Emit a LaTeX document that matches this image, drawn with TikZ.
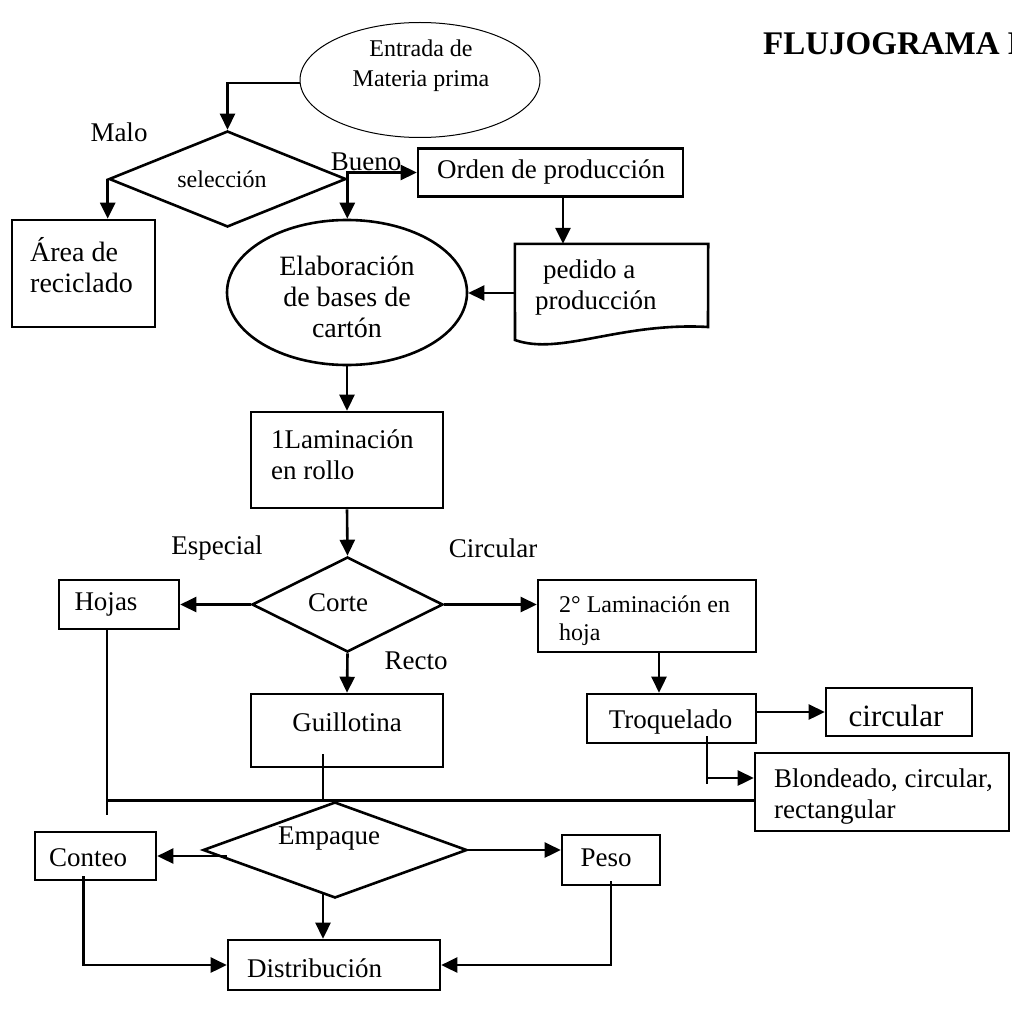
\documentclass[tikz,border=0pt]{standalone}
\usepackage{fontspec}
\setmainfont{Liberation Serif}
\usetikzlibrary{shapes.geometric,arrows.meta,calc}
\begin{document}
\begin{tikzpicture}[x=1pt,y=-1pt,
  box/.style={draw,rectangle,inner sep=0pt,line width=2.6pt},
  dia/.style={draw,diamond,inner sep=0pt,line width=2.6pt},
  txt/.style={inner sep=0pt,font=\fontsize{27}{31}\selectfont,align=center},
  arr/.style={-{Triangle[length=16pt,width=15pt]},line width=2.6pt},
  ln/.style={line width=2.6pt}
]
\useasboundingbox (0,0) rectangle (1011,1019);
% title
\node[anchor=base west,inner sep=0pt,font=\fontsize{33}{38}\selectfont\bfseries] (title) at (763,55) {FLUJOGRAMA P};
% top
\node[draw,ellipse,line width=1pt,minimum width=240pt,minimum height=115pt,inner sep=0pt] (ent) at (420,80) {};
\node[txt,font=\fontsize{24}{30}\selectfont] (entT) at (421,66) {Entrada de\\Materia prima};
\node[dia,minimum width=237pt,minimum height=96pt] (sel) at (227.5,179) {};
\node[txt,font=\fontsize{24}{30}\selectfont] (selT) at (222,179) {selección};
\node[txt] (malo) at (119,132) {Malo};
\node[txt] (bueno) at (366,162) {Bueno};
\node[box,minimum width=143pt,minimum height=107pt] (rec) at (83.5,273.5) {};
\node[txt,anchor=west,align=left,font=\fontsize{28}{31}\selectfont] (recT) at (30,265) {Área de\\reciclado};
\node[box,minimum width=265pt,minimum height=48pt] (ord) at (550.5,172.5) {};
\node[txt,anchor=west] (ordT) at (437,172) {Orden de producción};
% document shape
\node[rectangle,inner sep=0pt,minimum width=193pt,minimum height=103pt] (ped) at (611.5,295.5) {};
\draw[ln] (ped.north west) -- (ped.north east) -- (708,327) .. controls (620,322) and (560,356) .. (515,340) -- cycle;
\node[txt,anchor=west,align=left] (pedT) at (535,288) {\hspace*{8pt}pedido a\\producción};
\node[draw,ellipse,line width=2.6pt,minimum width=240pt,minimum height=145pt,inner sep=0pt] (elab) at (347,292.5) {};
\node[txt,font=\fontsize{28}{31}\selectfont] (elabT) at (347,297) {Elaboración\\de bases de\\cartón};
% middle
\node[box,minimum width=192pt,minimum height=96pt] (lam1) at (347,460) {};
\node[txt,anchor=west,align=left] (lam1T) at (271,455) {1Laminación\\en rollo};
\node[dia,minimum width=191pt,minimum height=95pt] (cor) at (347.5,604.5) {};
\node[txt] (corT) at (338,603) {Corte};
\node[txt] (esp) at (217,548) {Especial};
\node[txt] (circl) at (493,548) {Circular};
\node[txt] (rect) at (416,661) {Recto};
\node[box,minimum width=120pt,minimum height=49pt] (hoj) at (119,604.5) {};
\node[txt] (hojT) at (106,604) {Hojas};
\node[box,minimum width=218pt,minimum height=72pt] (lam2) at (647,616) {};
\node[txt,anchor=west,align=left,font=\fontsize{24}{28}\selectfont] (lam2T) at (559,621) {2° Laminación en\\hoja};
\node[box,minimum width=192pt,minimum height=73pt] (gui) at (347,730.5) {};
\node[txt] (guiT) at (347,722) {Guillotina};
\node[box,minimum width=169pt,minimum height=49pt] (troq) at (671.5,718.5) {};
\node[txt] (troqT) at (670.5,722) {Troquelado};
\node[box,minimum width=146pt,minimum height=48pt] (circ) at (899,712) {};
\node[txt,font=\fontsize{31}{34}\selectfont] (circT) at (896,716) {circular};
\node[box,minimum width=254pt,minimum height=78pt] (blond) at (882,792) {};
\node[txt,anchor=west,align=left] (blondT) at (774,797) {Blondeado, circular,\\rectangular};
% bottom
\node[dia,minimum width=264pt,minimum height=96pt] (emp) at (335,850) {};
\node[txt] (empT) at (329,839) {Empaque};
\node[box,minimum width=121pt,minimum height=48pt] (con) at (95.5,856) {};
\node[txt] (conT) at (88,858) {Conteo};
\node[box,minimum width=98pt,minimum height=50pt] (peso) at (611,860) {};
\node[txt] (pesoT) at (606,858) {Peso};
\node[box,minimum width=212pt,minimum height=50pt] (dis) at (334,965) {};
\node[txt,anchor=west] (disT) at (247,968) {Distribución};
% connectors
\draw[arr] ([yshift=-3pt]ent.west) -| (sel.north);
\draw[arr] (sel.west) -- (sel.west |- rec.north);
\draw[arr] (sel.east) |- (ord.west);
\draw[arr] (sel.east) -- (sel.east |- elab.north);
\draw[arr] ([xshift=12.5pt]ord.south) -- ([xshift=12.5pt]ord.south |- ped.north);
\draw[arr] ([yshift=2.5pt]ped.west) -- ([yshift=2.5pt]ped.west -| elab.east);
\draw[arr] (elab.south) -- (lam1.north);
\draw[arr] (lam1.south) -- (cor.north);
\draw[arr] (cor.west) -- (cor.west -| hoj.east);
\draw[arr] (cor.east) -- (cor.east -| lam2.west);
\draw[arr] (cor.south) -- (gui.north);
\draw[arr] ([xshift=12pt]lam2.south) -- ([xshift=12pt]lam2.south |- troq.north);
\draw[arr] (circ.west -| troq.east) -- (circ.west);
\coordinate (tq) at ([xshift=35.5pt,yshift=8pt]troq.south);
\coordinate (tb) at ([yshift=14pt]blond.west);
\draw[ln] (tq) -- ++(0,48);
\draw[arr] (tq |- tb) -- (tb);
\coordinate (hj) at ([xshift=-12pt]hoj.south);
\draw[ln] (hj) -- ++(0,185);
\draw[ln] (hj |- emp.north) -- (emp.north -| blond.west);
\draw[ln] ([xshift=-24pt,yshift=14pt]gui.south) -- ([xshift=-24pt]gui.south |- emp.north);
\draw[arr] ([xshift=25pt,yshift=-6pt]emp.west) -- ([yshift=-6pt]emp.west -| con.east);
\draw[arr] (emp.east) -- (emp.east -| peso.west);
\draw[arr] ([xshift=-12pt,yshift=5pt]emp.south) -- ([xshift=-12pt]emp.south |- dis.north);
\draw[arr] ([xshift=-12pt,yshift=5pt]con.south) |- (dis.west);
\draw[arr] ([yshift=5pt]peso.south) |- (dis.east);
\end{tikzpicture}
\end{document}
